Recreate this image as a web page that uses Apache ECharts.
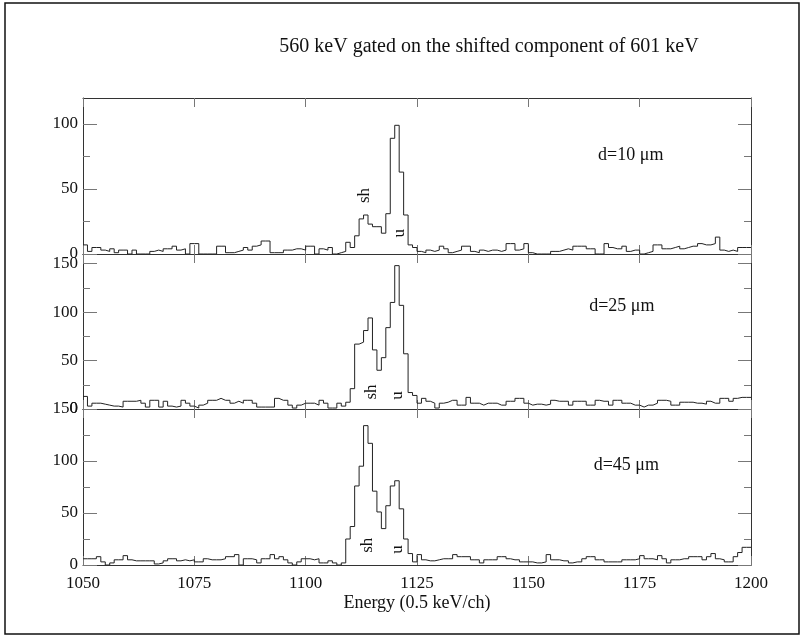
<!DOCTYPE html>
<html><head><meta charset="utf-8">
<script src="https://cdn.jsdelivr.net/npm/echarts@6/dist/echarts.min.js"></script>
<style>html,body{margin:0;padding:0;background:#fff}#c{width:801px;height:639px}</style>
</head><body><div id="c"></div>
<script>
// ---- data ----
const START_CHANNEL = 1050;       // first channel of the histograms (1 channel per bin)
const xTickValues = [1050, 1075, 1100, 1125, 1150, 1175, 1200];

const counts10 = [
  7,2,5,5,3,2,4,1,3,3, 0,3,0,0,0,2,3,2,4,4, 6,3,4,0,8,8,0,0,0,0,
  6,6,1,1,2,3,5,3,6,7, 10,10,1,1,1,3,3,4,4,3, 6,6,0,4,3,5,0,1,2,9,
  5,14,27,30,23,21,21,16,31,89, 99,63,30,7,5,2,1,3,2,3,
  6,4,1,2,3,6,6,2,1,3, 2,3,3,2,3,8,8,3,4,8, 1,0,0,0,0,2,2,3,4,3,
  6,6,6,4,4,0,0,8,5,4, 4,6,2,3,3,0,1,2,7,7, 4,4,5,6,4,5,6,6,8,7,
  7,8,13,3,2,3,2,5,5,5
];
const counts25 = [
  13,3,6,6,5,4,3,3,2,8, 8,8,9,6,2,9,9,2,8,3, 2,3,9,6,3,1,4,6,9,9,
  11,9,9,6,8,6,9,9,6,2, 2,2,2,11,9,9,4,1,4,6, 6,6,4,9,6,1,1,6,3,7,
  21,67,69,81,94,61,40,53,84,110, 148,107,57,17,14,6,11,8,6,1,
  6,7,9,9,4,4,12,6,6,4, 6,6,6,4,4,8,8,11,11,6, 4,5,5,4,5,9,8,8,8,4,
  8,8,8,4,4,9,8,8,4,9, 9,6,6,4,4,2,4,4,6,9, 9,8,4,4,7,7,7,6,6,5,
  8,6,6,11,11,8,11,12,12,12
];
const counts45 = [
  6,6,6,8,3,0,2,5,5,9, 5,4,4,4,4,4,1,2,4,6, 6,4,5,4,5,3,3,6,5,5,
  5,6,8,8,10,0,6,6,5,2, 6,6,10,6,8,5,2,0,3,6, 6,5,6,2,2,4,2,0,2,25,
  37,76,95,134,117,71,51,35,57,76, 81,54,25,11,3,10,5,4,4,5,
  6,6,6,10,8,8,8,5,5,2, 5,5,5,8,8,6,5,5,3,3, 3,2,2,3,10,5,5,4,4,2,
  3,3,6,8,8,5,5,3,3,3, 3,5,5,5,6,9,6,6,5,9, 6,2,5,5,6,6,8,8,8,5,
  8,11,6,5,3,3,8,12,17,17
];

const panelCounts = [counts10, counts25, counts45];
const panelLabels = ['d=10 \u03bcm', 'd=25 \u03bcm', 'd=45 \u03bcm'];
const panelLabelPos = [[1173, 76], [1171, 106], [1172, 96]];   // data coords
const yMax = [120, 160, 150];
const yMajor = [[0, 50, 100], [0, 50, 100, 150], [0, 50, 100, 150]];
const yMinor = [[25, 75], [25, 75, 125], [25, 75, 125]];
const peakNotes = [
  {panel: 0, text: 'sh', at: [1113.3, 45]},
  {panel: 0, text: 'u',  at: [1121.0, 16]},
  {panel: 1, text: 'sh', at: [1114.9, 17.5]},
  {panel: 1, text: 'u',  at: [1120.7, 14]},
  {panel: 2, text: 'sh', at: [1114.0, 19]},
  {panel: 2, text: 'u',  at: [1120.7, 15]}
];
const titleText = '560 keV gated on the shifted component of 601 keV';
const xAxisName = 'Energy (0.5 keV/ch)';

// ---- layout / style ----
const FONT = 'Liberation Serif';
const gridTops = [98, 254, 409];
const gridHeights = [156, 155, 156];
const AXIS_COLOR = '#333';
const TICK_COLOR = '#777';

const chart = echarts.init(document.getElementById('c'), null, {renderer: 'canvas'});

function steps(counts) {
  const pts = counts.map((v, i) => [START_CHANNEL + i, v]);
  pts.push([START_CHANNEL + counts.length, counts[counts.length - 1]]);
  return pts;
}
const plain = v => String(v);

const grids = [], xAxes = [], yAxes = [], series = [];
for (let i = 0; i < 3; i++) {
  grids.push({left: 83, right: 50, top: gridTops[i], height: gridHeights[i], containLabel: false});
  ['bottom', 'top'].forEach(pos => {
    const isLabelled = (i === 2 && pos === 'bottom');
    xAxes.push({
      type: 'value', gridIndex: i, position: pos, min: 1050, max: 1200, interval: 25,
      axisLine: {show: true, onZero: false, lineStyle: {color: AXIS_COLOR, width: 1}},
      axisTick: {show: true, inside: true, length: 9, lineStyle: {color: TICK_COLOR}, customValues: xTickValues},
      axisLabel: {show: isLabelled, margin: 10, color: '#111', fontFamily: FONT, fontSize: 17, customValues: xTickValues, formatter: plain},
      splitLine: {show: false},
      name: isLabelled ? xAxisName : '', nameLocation: 'middle', nameGap: 29,
      nameTextStyle: {color: '#111', fontFamily: FONT, fontSize: 18}
    });
  });
  [['left', true], ['right', false]].forEach(([pos, labelled]) => {
    yAxes.push({
      type: 'value', gridIndex: i, position: pos, min: 0, max: yMax[i],
      axisLine: {show: true, onZero: false, lineStyle: {color: AXIS_COLOR, width: 1}},
      axisTick: {show: true, inside: true, length: labelled ? 14 : 13, lineStyle: {color: TICK_COLOR}, customValues: yMajor[i]},
      axisLabel: {show: labelled, margin: 5, color: '#111', fontFamily: FONT, fontSize: 17, customValues: yMajor[i], formatter: plain},
      splitLine: {show: false}
    });
    yAxes.push({
      type: 'value', gridIndex: i, position: pos, min: 0, max: yMax[i],
      axisLine: {show: false, onZero: false},
      axisTick: {show: true, inside: true, length: 7, lineStyle: {color: TICK_COLOR}, customValues: yMinor[i]},
      axisLabel: {show: false, customValues: yMinor[i]},
      splitLine: {show: false}
    });
  });
  series.push({
    type: 'line', xAxisIndex: 2 * i, yAxisIndex: 4 * i, step: 'end', symbol: 'none',
    data: steps(panelCounts[i]),
    lineStyle: {color: '#222', width: 1}, animation: false, silent: true
  });
}

chart.setOption({
  backgroundColor: '#fff',
  animation: false,
  grid: grids, xAxis: xAxes, yAxis: yAxes, series: series
});

const graphics = [
  {type: 'rect', shape: {x: 5, y: 3, width: 794, height: 631}, style: {fill: 'none', stroke: '#111', lineWidth: 1.5}, silent: true},
  {type: 'text', x: 489, y: 47, style: {text: titleText, font: '20px "' + FONT + '"', fill: '#111', align: 'center', verticalAlign: 'middle'}}
];
for (let i = 0; i < 3; i++) {
  const p = chart.convertToPixel({xAxisIndex: 2 * i, yAxisIndex: 4 * i}, panelLabelPos[i]);
  graphics.push({type: 'text', x: p[0], y: p[1], style: {text: panelLabels[i], font: '18px "' + FONT + '"', fill: '#111', align: 'center', verticalAlign: 'middle'}});
}
peakNotes.forEach(n => {
  const p = chart.convertToPixel({xAxisIndex: 2 * n.panel, yAxisIndex: 4 * n.panel}, n.at);
  graphics.push({type: 'text', x: p[0], y: p[1], rotation: Math.PI / 2,
    style: {text: n.text, font: '17px "' + FONT + '"', fill: '#111', align: 'center', verticalAlign: 'middle'}});
});
chart.setOption({graphic: graphics});
</script>
</body></html>
